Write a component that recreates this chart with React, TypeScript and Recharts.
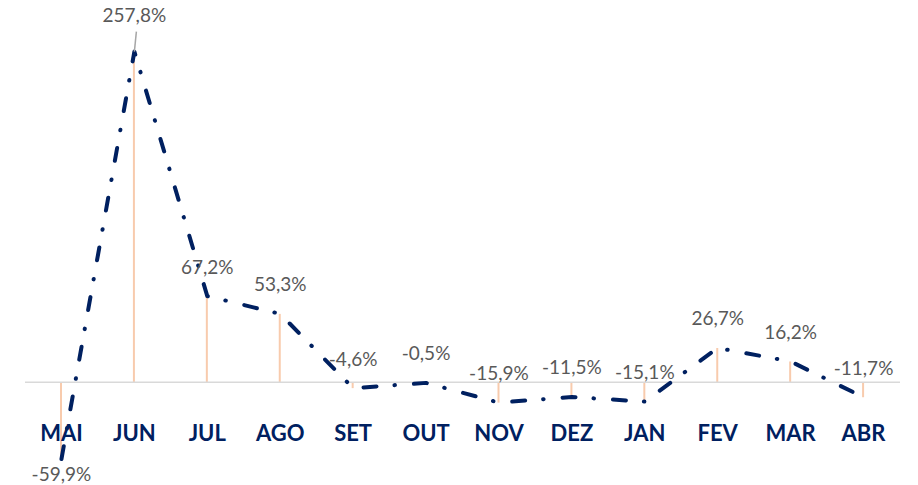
import React from 'react';
import {
  ComposedChart,
  Bar,
  Line,
  XAxis,
  YAxis,
  ReferenceLine
} from 'recharts';

const months = ['MAI', 'JUN', 'JUL', 'AGO', 'SET', 'OUT', 'NOV', 'DEZ', 'JAN', 'FEV', 'MAR', 'ABR'];
const changes = [-59.9, 257.8, 67.2, 53.3, -4.6, -0.5, -15.9, -11.5, -15.1, 26.7, 16.2, -11.7];

const chartData = months.map((m, i) => ({ month: m, value: changes[i] }));

const NAVY = '#002060';
const LABEL_GRAY = '#595959';
const FONT = 'Lato, "Open Sans", sans-serif';

const fmt = (v: number) => v.toFixed(1).replace('.', ',') + '%';

// value labels sit above each point; the lowest goes below, the peak gets a leader line
const renderLabel = (props: any) => {
  const { x, y, value, index } = props;
  const maxV = Math.max(...changes);
  const minV = Math.min(...changes);
  let ty = y - 30;
  let leader = null;
  if (value === minV) ty = y + 14;
  if (value === maxV) {
    ty = y - 37;
    leader = <line x1={x} y1={y} x2={x + 2} y2={y - 20} stroke="#A6A6A6" strokeWidth={1.5} />;
  }
  return (
    <g key={`lbl-${index}`}>
      {leader}
      <text
        x={x}
        y={ty}
        textAnchor="middle"
        dominantBaseline="central"
        fill={LABEL_GRAY}
        fontSize={19}
        fontFamily={FONT}
      >
        {fmt(value)}
      </text>
    </g>
  );
};

// month names sit just under the zero line, not at the plot bottom
const renderTick = (props: any) => {
  const { x, y, payload } = props;
  return (
    <text
      x={x}
      y={y - 32}
      textAnchor="middle"
      dominantBaseline="central"
      fill={NAVY}
      fontSize={22}
      fontWeight={700}
      fontFamily={FONT}
    >
      {payload.value}
    </text>
  );
};

export default function App() {
  return (
    <div style={{ position: 'absolute', left: 0, top: 0, width: 918, height: 485 }}>
      <ComposedChart
        width={918}
        height={485}
        data={chartData}
        margin={{ top: 36, right: 18, bottom: 13, left: 25 }}
      >
        <XAxis
          dataKey="month"
          mirror
          axisLine={false}
          tickLine={false}
          tick={renderTick}
          interval={0}
        />
        <YAxis type="number" domain={[-70, 270]} hide />
        <ReferenceLine y={0} stroke="#D9D9D9" strokeWidth={1.5} />
        <Bar dataKey="value" fill="#F8CBAD" barSize={2} isAnimationActive={false} />
        <Line
          type="linear"
          dataKey="value"
          stroke={NAVY}
          strokeWidth={4}
          strokeLinecap="round"
          strokeLinejoin="round"
          strokeDasharray="13 18 0.5 19"
          dot={false}
          activeDot={false}
          label={renderLabel}
          isAnimationActive={false}
        />
      </ComposedChart>
    </div>
  );
}
